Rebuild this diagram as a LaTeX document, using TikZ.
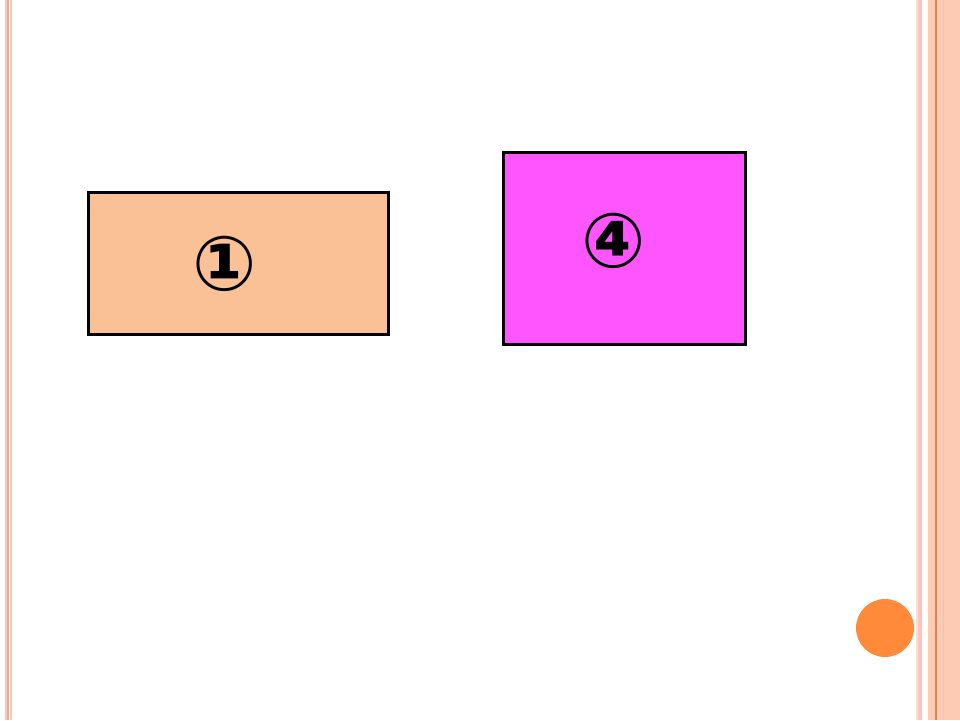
\documentclass[tikz,border=0pt]{standalone}
\usepackage{fontspec}
\newfontfamily\symfont{DejaVu Sans}
\definecolor{peachfill}{HTML}{FBC196}
\definecolor{magfill}{HTML}{FF55FF}
\definecolor{edgepink}{HTML}{F9C9BC}
\definecolor{edgedark}{HTML}{F2A890}
\definecolor{stripe}{HTML}{FDCBB4}
\definecolor{stripepink}{HTML}{FBC4BC}
\definecolor{stripeline}{HTML}{E0844F}
\definecolor{dotorange}{HTML}{FF8A3A}
\tikzset{
  box/.style={draw=black, line width=3.5pt, inner sep=0pt},
  numlabel/.style={font=\symfont\bfseries\fontsize{76}{76}\selectfont, inner sep=0pt}
}
\begin{document}
\begin{tikzpicture}[x=1pt,y=-1pt]
\useasboundingbox (0,0) rectangle (960,720);
\fill[white] (0,0) rectangle (960,720);
% left border
\fill[edgepink] (5,0) rectangle (6.5,720);
\fill[edgedark] (7,0) rectangle (9,720);
\fill[edgepink] (10,0) rectangle (11.5,720);
% right border
\fill[edgepink!60] (916,0) rectangle (917.5,720);
\fill[stripepink] (918,0) rectangle (922,720);
\fill[stripe] (928,0) rectangle (960,720);
\draw[stripeline, line width=1.2pt] (936,0) -- (936,720);
\draw[edgedark!70, line width=1pt] (943,0) -- (943,720);
% boxes
\node[box, fill=peachfill, minimum width=300pt, minimum height=142pt] (b1) at (238.5,263.5) {};
\node[box, fill=magfill, minimum width=242pt, minimum height=192pt] (b4) at (624.5,248.5) {};
\node[numlabel] (n1) at (224.5,263.5) {①};
\node[numlabel] (n4) at (614,241) {④};
% orange dot
\node[circle, fill=dotorange, minimum size=58pt, inner sep=0pt] (dot) at (885,628) {};
\end{tikzpicture}
\end{document}
